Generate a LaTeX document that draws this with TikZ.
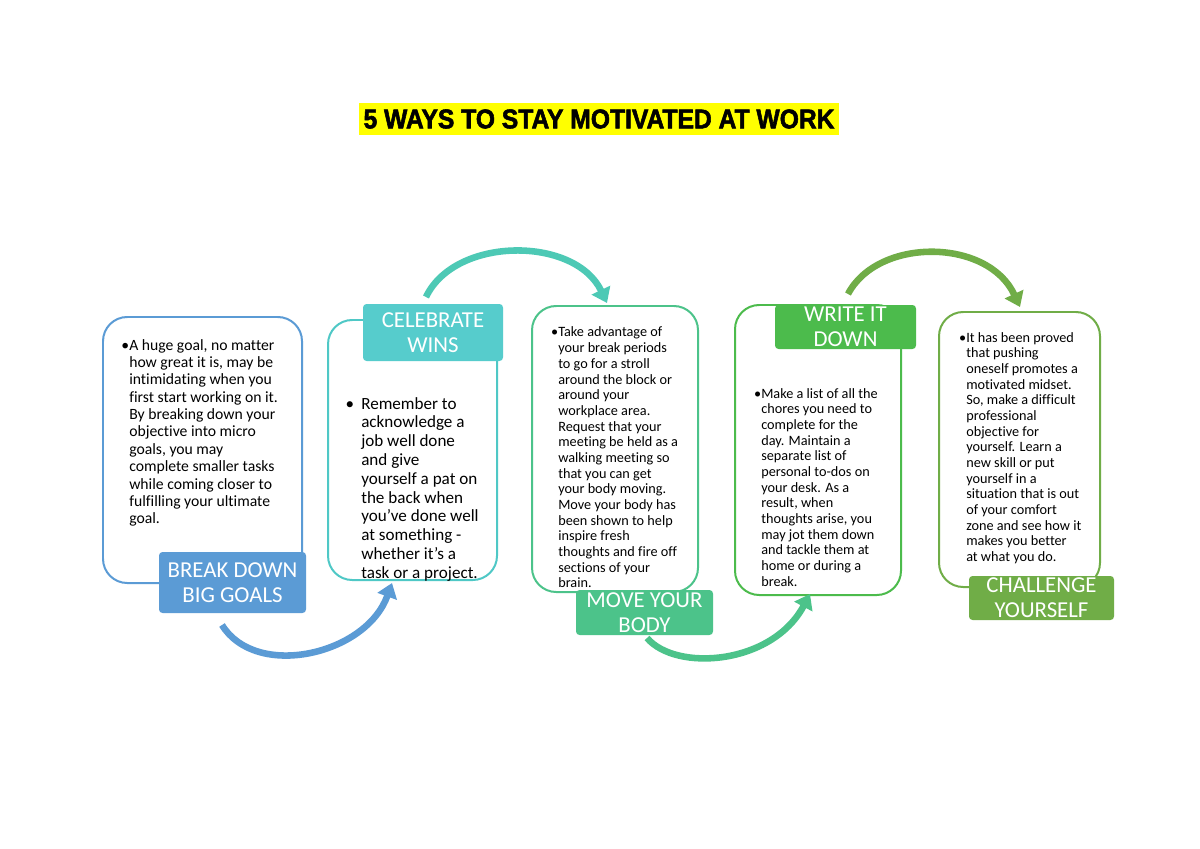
\documentclass[tikz,border=0pt]{standalone}
\usepackage{fontspec}
\setmainfont[Ligatures=NoCommon]{Carlito}
\newfontfamily\titlefont[FakeStretch=0.91,FakeBold=2]{Liberation Sans}
\usetikzlibrary{arrows.meta}
\newdimen\px \px=0.7017pt
\newcommand{\bul}[1][0pt]{\leavevmode\llap{•\hspace{#1}}}
\definecolor{cblue}{HTML}{5B9BD5}
\definecolor{cteal}{HTML}{4FC8C6}
\definecolor{ctealfill}{HTML}{56CCCC}
\definecolor{ctealarrow}{HTML}{4DC9B5}
\definecolor{cmint}{HTML}{4CC38A}
\definecolor{cgreen}{HTML}{4CBB4C}
\definecolor{colive}{HTML}{70AD47}
\definecolor{cyellow}{HTML}{FFFF00}
\begin{document}
\begin{tikzpicture}[x=0.7017pt,y=-0.7017pt,
  outline/.style={draw, line width=1.4pt, rounded corners=17pt, inner sep=0, rectangle},
  lbl/.style={rectangle, rounded corners=2.5pt, inner sep=0, text=white, align=center,
    font=\fontsize{16}{17.5}\selectfont},
  body/.style={anchor=base west, inner sep=0},
  arr/.style={line width=4.6pt, -{Triangle[length=10pt,width=14pt]}}]
\fill[white] (0,0) rectangle (1200,849);
\useasboundingbox (0,0) rectangle (1200,849);

% title
\node[fill=cyellow, minimum width=480\px, minimum height=32\px, inner sep=0,
  font=\titlefont\bfseries\fontsize{19}{21}\selectfont] (title) at (599,119)
  {5 WAYS TO STAY MOTIVATED AT WORK};

% outline boxes
\node[outline, draw=cblue, minimum width=199\px, minimum height=266\px] (b1) at (202.5,450) {};
\node[outline, draw=cteal, minimum width=169\px, minimum height=260\px] (b2) at (412.5,450) {};
\node[outline, draw=cmint, minimum width=166\px, minimum height=286\px] (b3) at (615,449) {};
\node[outline, draw=cgreen, minimum width=166\px, minimum height=290\px] (b4) at (818,450) {};
\node[outline, draw=colive, minimum width=161\px, minimum height=275\px] (b5) at (1019.5,449.5) {};

% body texts
\node[body] (t1) at (129,350) {\parbox[t]{200\px}{\fontsize{11}{12.2}\selectfont\raggedright
\bul A huge goal, no matter\\
how great it is, may be\\
intimidating when you\\
first start working on it.\\
By breaking down your\\
objective into micro\\
goals, you may\\
complete smaller tasks\\
while coming closer to\\
fulfilling your ultimate\\
goal.}};

\node[body] (t2) at (361,409) {\parbox[t]{200\px}{\fontsize{12}{13.2}\selectfont\raggedright
\bul[5pt]Remember to\\
acknowledge a\\
job well done\\
and give\\
yourself a pat on\\
the back when\\
you've done well\\
at something -\\
whether it's a\\
task or a project.}};

\node[body] (t3) at (558,337) {\parbox[t]{200\px}{\fontsize{10}{11}\selectfont\raggedright
\bul Take advantage of\\
your break periods\\
to go for a stroll\\
around the block or\\
around your\\
workplace area.\\
Request that your\\
meeting be held as a\\
walking meeting so\\
that you can get\\
your body moving.\\
Move your body has\\
been shown to help\\
inspire fresh\\
thoughts and fire off\\
sections of your\\
brain.}};

\node[body] (t4) at (761,398) {\parbox[t]{200\px}{\fontsize{10}{11}\selectfont\raggedright
\bul Make a list of all the\\
chores you need to\\
complete for the\\
day. Maintain a\\
separate list of\\
personal to-dos on\\
your desk. As a\\
result, when\\
thoughts arise, you\\
may jot them down\\
and tackle them at\\
home or during a\\
break.}};

\node[body] (t5) at (966,342) {\parbox[t]{200\px}{\fontsize{10}{11}\selectfont\raggedright
\bul It has been proved\\
that pushing\\
oneself promotes a\\
motivated midset.\\
So, make a difficult\\
professional\\
objective for\\
yourself. Learn a\\
new skill or put\\
yourself in a\\
situation that is out\\
of your comfort\\
zone and see how it\\
makes you better\\
at what you do.}};

% labels
\node[lbl, fill=cblue, minimum width=147\px, minimum height=61\px] (l1) at (232.5,582.5) {BREAK DOWN\\BIG GOALS};
\node[lbl, fill=ctealfill, minimum width=140\px, minimum height=57\px] (l2) at (433,332.5) {CELEBRATE\\WINS};
\node[lbl, fill=cmint, minimum width=137\px, minimum height=45\px] (l3) at (644.5,612.5) {MOVE YOUR\\BODY};
\node[lbl, fill=cgreen, minimum width=141\px, minimum height=44\px] (l4) at (845.5,327) {WRITE IT\\DOWN};
\node[lbl, fill=colive, minimum width=145\px, minimum height=44\px] (l5) at (1041.5,598) {CHALLENGE\\YOURSELF};

% arrows
\coordinate (a1s) at (222,625);
\coordinate (a1e) at (392,583);
\coordinate (a2s) at (426,297);
\coordinate (a2e) at (607,303);
\coordinate (a3s) at (647,638);
\coordinate (a3e) at (810,594);
\coordinate (a4s) at (848,294);
\coordinate (a4e) at (1020,307);
\draw[arr, cblue] (a1s) .. controls (256,680) and (366,655) .. (a1e);
\draw[arr, ctealarrow] (a2s) .. controls (455,236) and (575,236) .. (a2e);
\draw[arr, cmint] (a3s) .. controls (676,672) and (772,665) .. (a3e);
\draw[arr, colive] (a4s) .. controls (878,237) and (988,238) .. (a4e);
\end{tikzpicture}
\end{document}
